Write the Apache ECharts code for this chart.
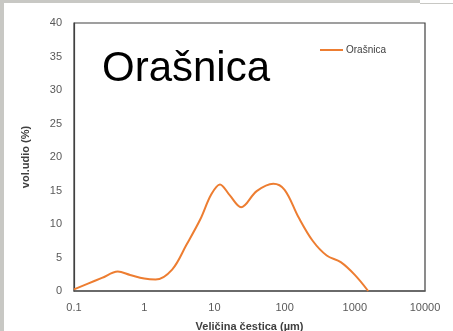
<!DOCTYPE html>
<html>
<head>
<meta charset="utf-8">
<script src="https://cdn.jsdelivr.net/npm/echarts@6/dist/echarts.min.js"></script>
<style>
html,body{margin:0;padding:0;background:#fff;}
#c{width:453px;height:331px;}
</style>
</head>
<body>
<div id="c"></div>
<script>
const seriesName = 'Orašnica';
const titleText = 'Orašnica';
const sizes = [0.1, 0.158, 0.25, 0.42, 0.63, 1.0, 1.45, 2.5, 4.0, 6.3, 9.0, 12, 16.5, 24, 40, 69, 100, 158, 251, 398, 631, 1000, 1550];
const values = [0.25, 1.1, 1.95, 2.9, 2.4, 1.85, 1.7, 3.2, 6.9, 10.7, 14.4, 15.9, 14.3, 12.5, 14.9, 16.0, 15.1, 11.0, 7.5, 5.3, 4.3, 2.4, 0];
const yTicks = [0, 5, 10, 15, 20, 25, 30, 35, 40];
const xAxisName = 'Veličina čestica (µm)';
const yAxisName = 'vol.udio (%)';

const font = 'Liberation Sans';
const chart = echarts.init(document.getElementById('c'), null, {renderer: 'canvas'});
chart.setOption({
  animation: false,
  backgroundColor: '#ffffff',
  graphic: [
    {type: 'rect', shape: {x: 0, y: 0, width: 420, height: 3}, style: {fill: '#c8c8c4'}, silent: true},
    {type: 'rect', shape: {x: 0, y: 0, width: 4, height: 331}, style: {fill: '#c8c8c4'}, silent: true},
    {type: 'rect', shape: {x: 420, y: 3, width: 33, height: 1}, style: {fill: '#c8c8c4'}, silent: true}
  ],
  title: {
    text: titleText,
    left: 97,
    top: 43,
    textStyle: {fontFamily: font, fontSize: 42, fontWeight: 'normal', color: '#000000'}
  },
  legend: {
    data: [seriesName],
    left: 320,
    top: 45,
    padding: 0,
    icon: 'rect',
    itemWidth: 23,
    itemHeight: 2,
    itemGap: 4,
    textStyle: {fontFamily: font, fontSize: 10, color: '#404040', padding: [0, 0, 0, -2]}
  },
  grid: {
    left: 74, right: 28, top: 23, bottom: 40,
    show: true,
    borderColor: '#404040',
    borderWidth: 1.2,
    containLabel: false,
    outerBoundsMode: 'none'
  },
  xAxis: {
    type: 'log',
    logBase: 10,
    min: 0.1,
    max: 10000,
    name: xAxisName,
    nameLocation: 'middle',
    nameGap: 30,
    nameTextStyle: {fontFamily: font, fontSize: 11, fontWeight: 'bold', color: '#404040'},
    axisLine: {show: true, lineStyle: {color: '#5a5a5a', width: 1.5}},
    axisTick: {show: false},
    splitLine: {show: false},
    minorTick: {show: false},
    axisLabel: {
      fontFamily: font, fontSize: 11, color: '#595959', margin: 11,
      formatter: function (v) { return String(+v.toPrecision(6)); }
    }
  },
  yAxis: {
    type: 'value',
    min: yTicks[0],
    max: yTicks[yTicks.length - 1],
    interval: yTicks[1] - yTicks[0],
    name: yAxisName,
    nameLocation: 'middle',
    nameGap: 43,
    nameRotate: 90,
    nameTextStyle: {fontFamily: font, fontSize: 11, fontWeight: 'bold', color: '#404040'},
    axisLine: {show: true, lineStyle: {color: '#404040', width: 1.2}},
    axisTick: {show: false},
    splitLine: {show: false},
    axisLabel: {fontFamily: font, fontSize: 11, color: '#595959', margin: 12}
  },
  series: [{
    name: seriesName,
    type: 'line',
    data: sizes.map((s, i) => [s, values[i]]),
    smooth: 0.35,
    symbol: 'none',
    showSymbol: false,
    lineStyle: {color: '#ed7d31', width: 2},
    itemStyle: {color: '#ed7d31'}
  }]
});
</script>
</body>
</html>
